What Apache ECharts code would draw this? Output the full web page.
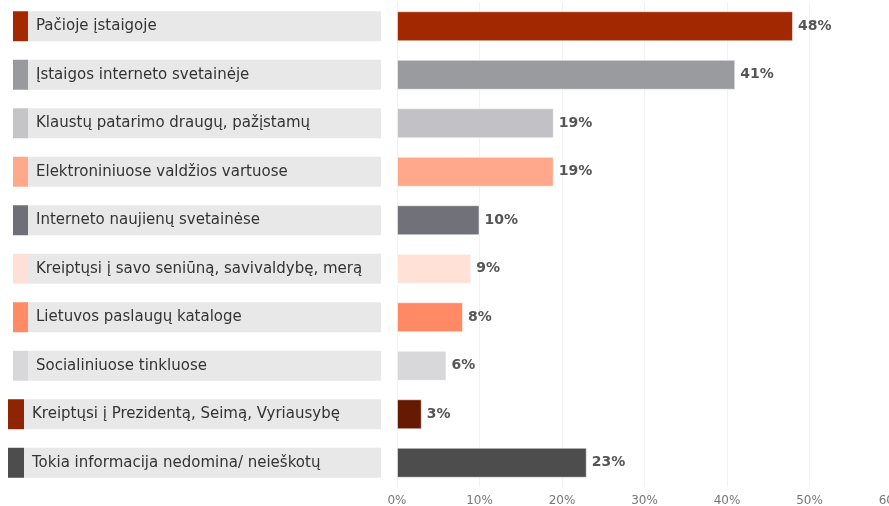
<!DOCTYPE html>
<html>
<head>
<meta charset="utf-8">
<script src="https://cdn.jsdelivr.net/npm/echarts@6/dist/echarts.min.js"></script>
<style>
  html, body { margin: 0; padding: 0; background: #fff; }
  #main { width: 889px; height: 506px; }
</style>
</head>
<body>
<div id="main"></div>
<script>
// duomenys
var categories = [
    'Pačioje įstaigoje',
    'Įstaigos interneto svetainėje',
    'Klaustų patarimo draugų, pažįstamų',
    'Elektroniniuose valdžios vartuose',
    'Interneto naujienų svetainėse',
    'Kreiptųsi į savo seniūną, savivaldybę, merą',
    'Lietuvos paslaugų kataloge',
    'Socialiniuose tinkluose',
    'Kreiptųsi į Prezidentą, Seimą, Vyriausybę',
    'Tokia informacija nedomina/ neieškotų'
];
var values = [48, 41, 19, 19, 10, 9, 8, 6, 3, 23];
var barColors = ['#a12800', '#9a9b9f', '#c2c2c6', '#ffa88c', '#717179',
                 '#ffe1d8', '#ff8a65', '#d8d8da', '#661a02', '#4d4d4d'];
var markerColors = ['#a32a00', '#999a9e', '#c5c5c8', '#ffa98c', '#6f6f78',
                    '#ffe0d6', '#ff8a64', '#d8d8da', '#8f2400', '#4d4d4d'];
var tickLabels = ['0%', '10%', '20%', '30%', '40%', '50%', '60%'];

var FONT = 'DejaVu Sans, Verdana, sans-serif';
var chart = echarts.init(document.getElementById('main'));

// rich stiliai kairiosioms etiketėms (spalvotas žymeklis + pilkas fonas)
var rich = {
    t: {
        backgroundColor: '#e8e8e8', width: 345, height: 30, lineHeight: 30,
        padding: [0, 0, 0, 8], fontSize: 15, color: '#333', align: 'left',
        fontFamily: FONT
    },
    tw: {
        backgroundColor: '#e8e8e8', width: 349, height: 30, lineHeight: 30,
        padding: [0, 0, 0, 8], fontSize: 15, color: '#333', align: 'left',
        fontFamily: FONT
    }
};
markerColors.forEach(function (c, i) {
    rich['m' + i] = { backgroundColor: c, width: i >= 8 ? 16 : 15, height: 30, align: 'left' };
});

chart.setOption({
    animation: false,
    grid: { left: 397, right: -3, top: 2, bottom: 19, outerBoundsMode: 'none' },
    xAxis: {
        type: 'value', min: 0, max: 60, interval: 10,
        axisLine: { show: false }, axisTick: { show: false },
        splitLine: { lineStyle: { color: '#f2f2f2' } },
        axisLabel: {
            color: '#777', fontSize: 12, margin: 8, fontFamily: FONT,
            formatter: function (v) { return tickLabels[v / 10]; }
        }
    },
    yAxis: {
        type: 'category', inverse: true, data: categories,
        axisLine: { show: false }, axisTick: { show: false },
        axisLabel: {
            margin: 16, rich: rich,
            formatter: function (name, idx) {
                return '{m' + idx + '|}{' + (idx >= 8 ? 'tw' : 't') + '|' + name + '}';
            }
        }
    },
    series: [{
        type: 'bar',
        barWidth: 30,
        data: values.map(function (v, i) {
            return { value: v, itemStyle: { color: barColors[i] } };
        }),
        itemStyle: { borderColor: 'rgba(255,255,255,0.5)', borderWidth: 1 },
        label: {
            show: true, position: 'right', distance: 5,
            fontSize: 14, fontWeight: 'bold', color: '#555', fontFamily: FONT,
            formatter: '{c}%'
        }
    }]
});
</script>
</body>
</html>
